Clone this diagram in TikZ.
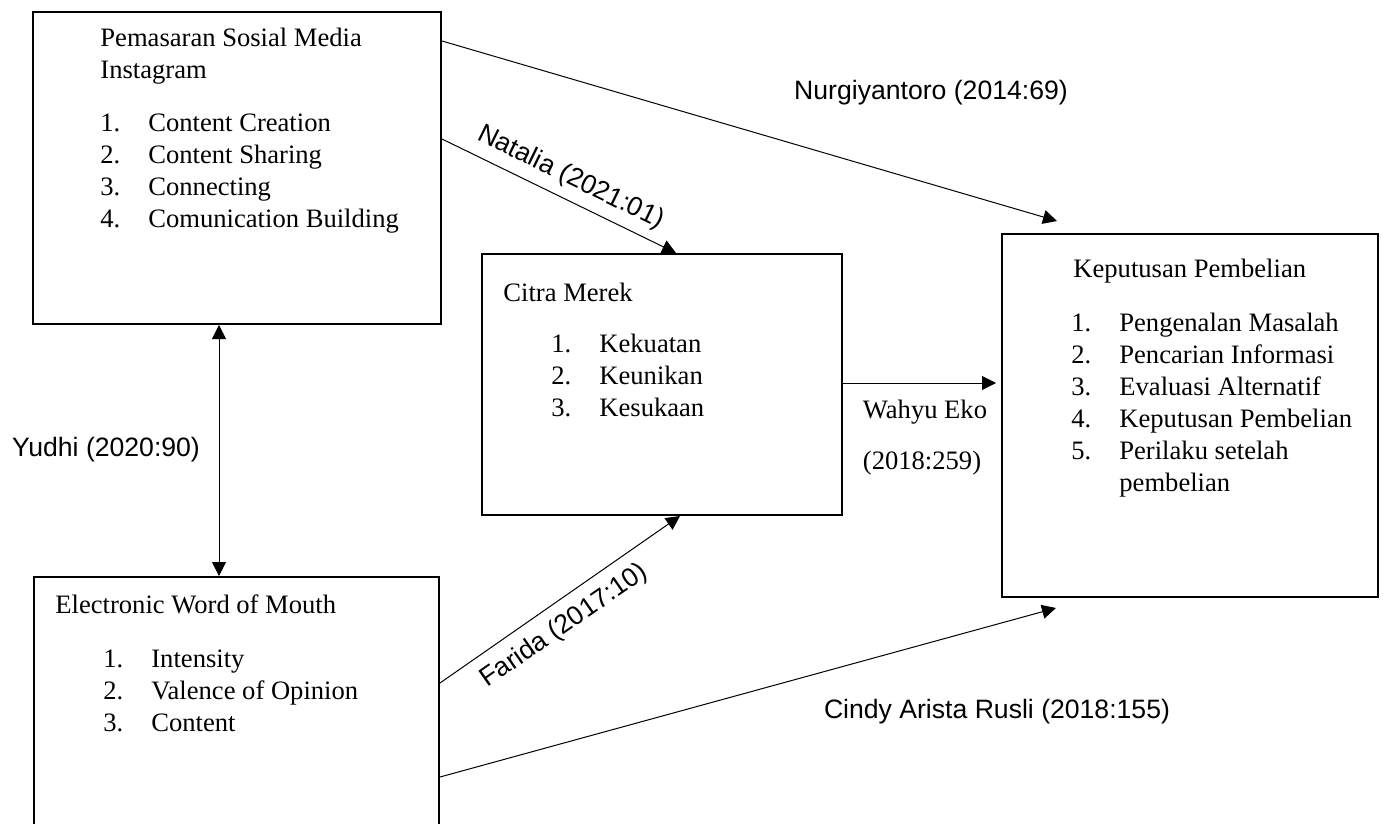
\documentclass[tikz,border=0pt]{standalone}
\usepackage{fontspec}
\setmainfont{Liberation Serif}
\newfontfamily\arialfont{Liberation Sans}
\usetikzlibrary{arrows.meta,fit,calc}

\tikzset{
  kotak/.style={draw, line width=1pt, inner sep=0pt},
  isi/.style={anchor=north west, inner sep=0pt, align=left, font=\fontsize{13.3}{16}\selectfont},
  teks/.style={font=\fontsize{13.3}{16}\selectfont},
  ket/.style={font=\arialfont\fontsize{13.3}{16}\selectfont},
  panah/.style={line width=0.5pt, -{Triangle[length=7pt,width=7pt]}},
  dua/.style={line width=0.5pt, {Triangle[length=7pt,width=7pt]}-{Triangle[length=7pt,width=7pt]}}
}
\newcommand{\butir}[1]{\makebox[24pt][l]{#1}}

\begin{document}
\begin{tikzpicture}[x=0.5pt,y=-0.5pt]
        \clip (0,0) rectangle (1383,824);

        % kotak variabel
        \node[kotak, fit={(33,12) (441,324)}] (pem) {};
        \node[kotak, fit={(482,254) (842,515)}] (cm) {};
        \node[kotak, fit={(1002,234) (1378,597)}] (kp) {};
        \node[kotak, fit={(34,577) (439,840)}] (ewom) {};

        \node[isi] (pemjudul) at (100,28) {Pemasaran Sosial Media\\Instagram};
        \node[isi] (pemisi) at (100,113) {\butir{1.}Content Creation\\\butir{2.}Content Sharing\\\butir{3.}Connecting\\\butir{4.}Comunication Building};

        \node[isi] (cmjudul) at (503,283) {Citra Merek};
        \node[isi] (cmisi) at (551,334) {\butir{1.}Kekuatan\\\butir{2.}Keunikan\\\butir{3.}Kesukaan};

        \node[isi] (kpjudul) at (1073,259) {Keputusan Pembelian};
        \node[isi] (kpisi) at (1071,313) {\butir{1.}Pengenalan Masalah\\\butir{2.}Pencarian Informasi\\\butir{3.}Evaluasi Alternatif\\\butir{4.}Keputusan Pembelian\\\butir{5.}Perilaku setelah\\\butir{}pembelian};

        \node[isi] (ewomjudul) at (55,594) {Electronic Word of Mouth};
        \node[isi] (ewomisi) at (103,649) {\butir{1.}Intensity\\\butir{2.}Valence of Opinion\\\butir{3.}Content};

        % ujung panah
        \coordinate (nurga) at ($(pem.north east)+(0,30)$);
        \coordinate (nurgb) at ($(kp.north west)+(56,-12)$);
        \coordinate (nata) at ($(pem.north east)+(0,128)$);
        \coordinate (natb) at ($(cm.north west)+(195,0)$);
        \coordinate (fara) at ($(ewom.north east)+(0,107)$);
        \coordinate (farb) at ($(cm.south west)+(199,0)$);
        \coordinate (cina) at ($(ewom.north east)+(0,201)$);
        \coordinate (cinb) at ($(kp.south west)+(55,10)$);
        \coordinate (waha) at ($(cm.north east)+(0,130)$);
        \coordinate (wahb) at ($(kp.north west)+(-5,150)$);
        \coordinate (yuda) at ($(pem.south west)+(187,0)$);
        \coordinate (yudb) at ($(ewom.north west)+(186,0)$);

        \draw[panah] (nurga) -- (nurgb);
        \draw[panah] (nata) -- node[ket, sloped, pos=0.51, above=1pt] (natalia) {Natalia (2021:01)} (natb);
        \draw[panah] (fara) -- node[ket, sloped, pos=0.46, below=2.4pt] (farida) {Farida (2017:10)} (farb);
        \draw[panah] (cina) -- (cinb);
        \draw[panah] (waha) -- (wahb);
        \draw[dua] (yuda) -- (yudb);

        % label
        \node[ket] (nurg) at (931,93) {Nurgiyantoro (2014:69)};
        \node[ket] (yudhi) at (106,450) {Yudhi (2020:90)};
        \node[ket] (cindy) at (997,712) {Cindy Arista Rusli (2018:155)};
        \node[teks] (wahyu) at (925,412) {Wahyu Eko};
        \node[teks] (wahyuth) at (922,463) {(2018:259)};
    \end{tikzpicture}
\end{document}
